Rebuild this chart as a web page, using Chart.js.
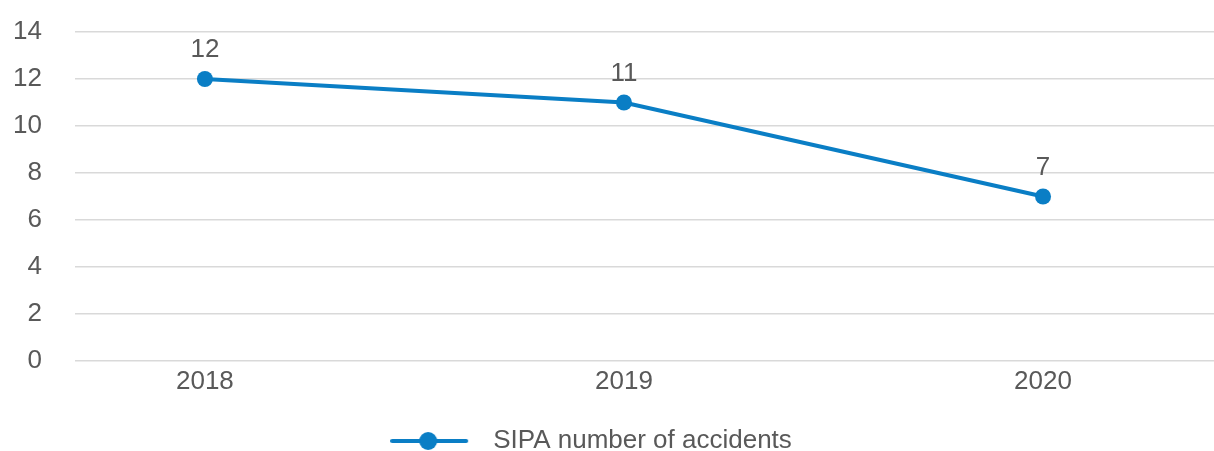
<!DOCTYPE html>
<html>
<head>
<meta charset="utf-8">
<script src="https://cdn.jsdelivr.net/npm/chart.js@4/dist/chart.umd.min.js"></script>
<style>
  html, body { margin: 0; padding: 0; background: #fff; overflow: hidden; }
  #wrap { width: 1214px; height: 451px; position: relative; }
</style>
</head>
<body>
<div id="wrap"><canvas id="chart"></canvas></div>
<script>
const years = [2018, 2019, 2020];
const accidents = [12, 11, 7];
const seriesName = "SIPA number of accidents";
const yTicks = [0, 2, 4, 6, 8, 10, 12, 14];

const blue = '#0a7ec5';
const grey = '#595959';
const fontFamily = '"Liberation Sans", Arial, sans-serif';
const fontSize = 26;

// legend marker: line with a dot in the middle
function legendMarker() {
    let c = document.createElement('canvas');
    c.width = 90;
    c.height = 22;
    let g = c.getContext('2d');
    g.strokeStyle = blue;
    g.lineWidth = 4;
    g.lineCap = 'round';
    g.beginPath();
    g.moveTo(2, 11);
    g.lineTo(76, 11);
    g.stroke();
    g.fillStyle = blue;
    g.beginPath();
    g.arc(38, 11, 9, 0, Math.PI * 2);
    g.fill();
    return c;
}

// values above the points
const valueLabels = {
    id: 'valueLabels',
    afterDatasetsDraw(chart) {
        const ctx = chart.ctx;
        const meta = chart.getDatasetMeta(0);
        ctx.save();
        ctx.fillStyle = grey;
        ctx.font = fontSize + 'px ' + fontFamily;
        ctx.textAlign = 'center';
        ctx.textBaseline = 'middle';
        meta.data.forEach((pt, i) => {
            ctx.fillText(String(accidents[i]), pt.x, pt.y - 29);
        });
        ctx.restore();
    }
};

// the legend in the original sits a little left of centre
const legendShift = {
    id: 'legendShift',
    afterLayout(chart) {
        if (chart.legend) {
            chart.legend.left -= 16;
            chart.legend.right -= 16;
        }
    }
};

const marker = legendMarker();

new Chart(document.getElementById('chart'), {
    type: 'line',
    data: {
        datasets: [{
            label: seriesName,
            data: years.map((y, i) => ({ x: y, y: accidents[i] })),
            borderColor: blue,
            backgroundColor: blue,
            borderWidth: 4,
            pointRadius: 8,
            pointHoverRadius: 8,
            pointBackgroundColor: blue,
            pointBorderWidth: 0,
            tension: 0
        }]
    },
    options: {
        responsive: true,
        maintainAspectRatio: false,
        animation: false,
        layout: { autoPadding: false, padding: { top: 32, right: 0, bottom: -13, left: 0 } },
        scales: {
            x: {
                type: 'linear',
                min: 2017.69,
                max: 2020.408,
                afterBuildTicks(scale) {
                    scale.ticks = years.map(v => ({ value: v }));
                },
                afterFit(scale) {
                    scale.height = 67;
                    scale.paddingLeft = 0;
                    scale.paddingRight = 0;
                },
                grid: { display: false },
                border: { display: false },
                ticks: {
                    color: grey,
                    font: { size: fontSize, family: fontFamily },
                    padding: -3,
                    callback: v => String(v)
                }
            },
            y: {
                min: 0,
                max: 14,
                afterBuildTicks(scale) {
                    scale.ticks = yTicks.map(v => ({ value: v }));
                },
                afterFit(scale) {
                    scale.width = 75;
                    scale.paddingTop = 0;
                    scale.paddingBottom = 0;
                },
                grid: { color: '#d9d9d9', lineWidth: 1.5, drawTicks: false },
                border: { display: false },
                ticks: {
                    color: grey,
                    font: { size: fontSize, family: fontFamily },
                    padding: 33
                }
            }
        },
        plugins: {
            tooltip: { enabled: false },
            legend: {
                position: 'bottom',
                labels: {
                    usePointStyle: true,
                    pointStyleWidth: 90,
                    color: grey,
                    font: { size: fontSize, family: fontFamily },
                    padding: 0,
                    generateLabels(chart) {
                        return [{
                            text: seriesName,
                            pointStyle: marker,
                            fillStyle: blue,
                            strokeStyle: blue,
                            lineWidth: 0,
                            fontColor: grey,
                            datasetIndex: 0,
                            hidden: false
                        }];
                    }
                }
            }
        }
    },
    plugins: [valueLabels, legendShift]
});
</script>
</body>
</html>
